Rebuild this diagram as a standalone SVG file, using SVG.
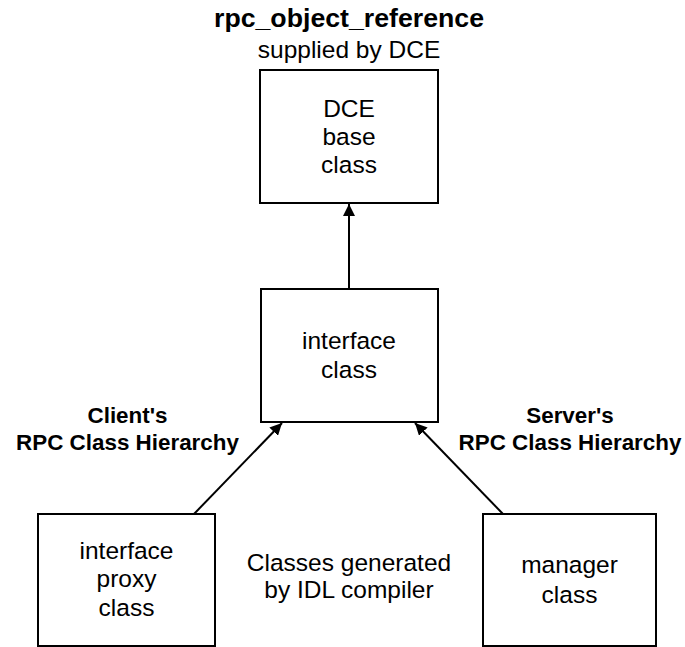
<svg xmlns="http://www.w3.org/2000/svg" width="685" height="647" viewBox="0 0 685 647">
<defs>
<style>
.box{fill:#fff;stroke:#000;stroke-width:2}
.t{font-family:"Liberation Sans",Arial,sans-serif;font-size:24.5px;fill:#000;text-anchor:middle}
.b{font-family:"Liberation Sans",Arial,sans-serif;font-size:22.4px;font-weight:bold;fill:#000;text-anchor:middle}
.title{font-family:"Liberation Sans",Arial,sans-serif;font-size:26.7px;font-weight:bold;fill:#000;text-anchor:middle}
.edge{stroke:#000;stroke-width:2;fill:none;marker-end:url(#arr)}
</style>
<marker id="arr" viewBox="0 0 12 12" refX="12" refY="6" markerWidth="12" markerHeight="12" markerUnits="userSpaceOnUse" orient="auto">
<path d="M0,0 L12,6 L0,12 Z" fill="#000"/>
</marker>
</defs>
<rect width="685" height="647" fill="#fff"/>
<text class="title" x="349" y="27">rpc_object_reference</text>
<text class="t" x="349" y="58">supplied by DCE</text>
<g id="connectors">
<line class="edge" x1="349" y1="289" x2="349" y2="204"/>
<line class="edge" x1="194" y1="514" x2="282" y2="423"/>
<line class="edge" x1="503" y1="514" x2="415" y2="423"/>
</g>
<g id="dce_base">
<rect class="box" x="260" y="70" width="178" height="133"/>
<text class="t" x="349" y="117">DCE</text>
<text class="t" x="349" y="145">base</text>
<text class="t" x="349" y="173">class</text>
</g>
<g id="interface_class">
<rect class="box" x="261" y="289" width="177" height="133"/>
<text class="t" x="349" y="349">interface</text>
<text class="t" x="349" y="378">class</text>
</g>
<g id="proxy_class">
<rect class="box" x="38" y="514" width="177" height="132"/>
<text class="t" x="126.5" y="559">interface</text>
<text class="t" x="126.5" y="587">proxy</text>
<text class="t" x="126.5" y="616">class</text>
</g>
<g id="manager_class">
<rect class="box" x="483" y="514" width="173" height="132"/>
<text class="t" x="569.5" y="573">manager</text>
<text class="t" x="569.5" y="603">class</text>
</g>
<g id="client_label">
<text class="b" x="127.5" y="423">Client's</text>
<text class="b" x="127.5" y="450">RPC Class Hierarchy</text>
</g>
<g id="server_label">
<text class="b" x="570" y="423">Server's</text>
<text class="b" x="570" y="450">RPC Class Hierarchy</text>
</g>
<g id="idl_note">
<text class="t" x="349" y="571">Classes generated</text>
<text class="t" x="349" y="598">by IDL compiler</text>
</g>
</svg>
